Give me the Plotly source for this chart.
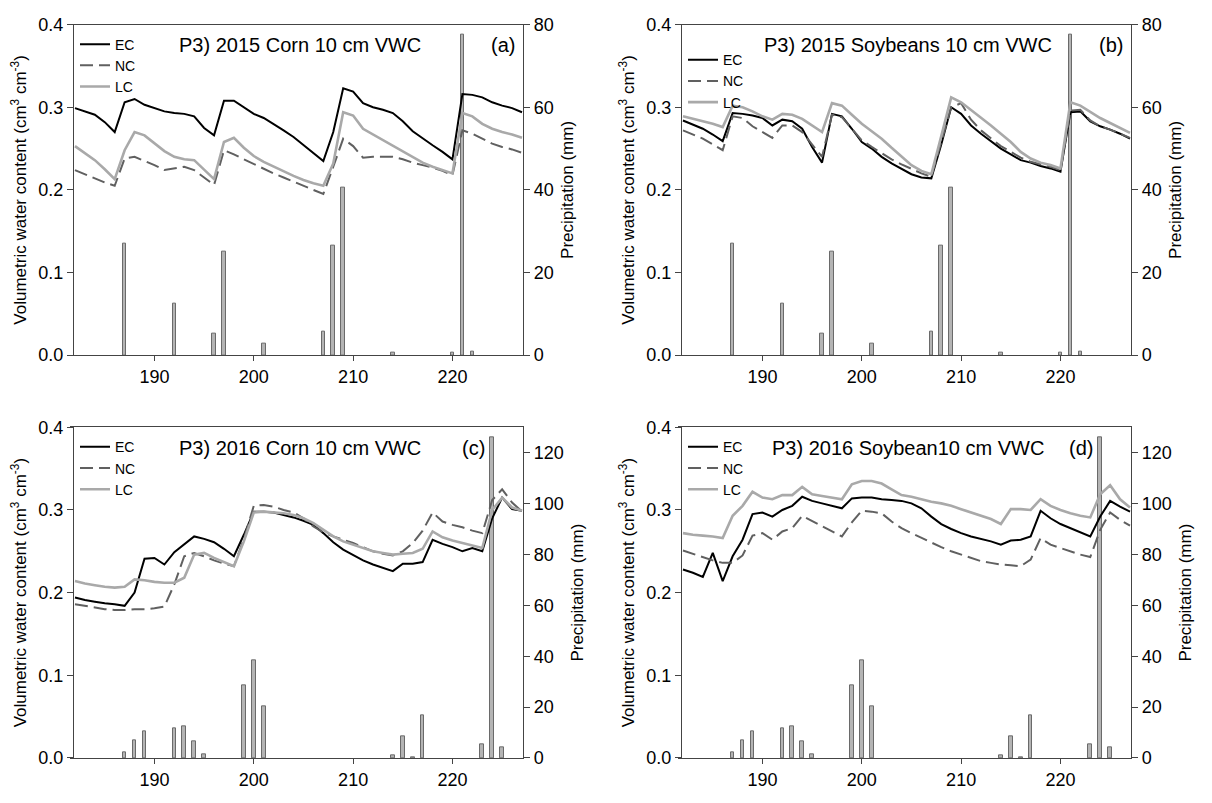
import plotly.graph_objects as go

# ---------------- data ----------------
days = list(range(182, 228))

# 2015 Corn
ec_2015_corn = [0.299, 0.295, 0.291, 0.282, 0.270, 0.306, 0.310, 0.303, 0.299, 0.295,
                0.293, 0.292, 0.289, 0.275, 0.266, 0.308, 0.308, 0.300, 0.292, 0.287,
                0.280, 0.272, 0.264, 0.254, 0.244, 0.235, 0.270, 0.323, 0.319, 0.305,
                0.300, 0.297, 0.293, 0.283, 0.271, 0.262, 0.254, 0.246, 0.237, 0.316,
                0.315, 0.312, 0.306, 0.302, 0.299, 0.294]
nc_2015_corn = [0.224, 0.219, 0.214, 0.209, 0.205, 0.238, 0.240, 0.235, 0.230, 0.224,
                0.226, 0.228, 0.224, 0.215, 0.206, 0.248, 0.243, 0.237, 0.231, 0.226,
                0.220, 0.215, 0.210, 0.205, 0.200, 0.195, 0.228, 0.262, 0.253, 0.239,
                0.240, 0.240, 0.240, 0.237, 0.233, 0.230, 0.227, 0.223, 0.218, 0.272,
                0.268, 0.262, 0.256, 0.252, 0.249, 0.245]
lc_2015_corn = [0.253, 0.244, 0.236, 0.225, 0.213, 0.248, 0.270, 0.266, 0.256, 0.247,
                0.240, 0.237, 0.236, 0.225, 0.213, 0.258, 0.263, 0.251, 0.241, 0.234,
                0.228, 0.222, 0.217, 0.212, 0.208, 0.205, 0.232, 0.294, 0.290, 0.274,
                0.267, 0.260, 0.254, 0.247, 0.240, 0.233, 0.228, 0.224, 0.220, 0.293,
                0.289, 0.280, 0.274, 0.270, 0.267, 0.263]

# 2015 Soybeans
ec_2015_soy = [0.284, 0.279, 0.274, 0.267, 0.259, 0.293, 0.292, 0.290, 0.287, 0.278,
               0.285, 0.283, 0.274, 0.252, 0.233, 0.292, 0.289, 0.274, 0.258, 0.250,
               0.240, 0.232, 0.225, 0.219, 0.215, 0.214, 0.255, 0.300, 0.292, 0.278,
               0.268, 0.259, 0.250, 0.243, 0.236, 0.233, 0.229, 0.226, 0.222, 0.294,
               0.295, 0.283, 0.277, 0.273, 0.268, 0.262]
nc_2015_soy = [0.272, 0.267, 0.262, 0.255, 0.248, 0.289, 0.287, 0.277, 0.270, 0.263,
               0.278, 0.278, 0.270, 0.255, 0.240, 0.291, 0.288, 0.274, 0.260, 0.252,
               0.244, 0.237, 0.231, 0.225, 0.220, 0.216, 0.257, 0.300, 0.305, 0.285,
               0.272, 0.262, 0.253, 0.246, 0.239, 0.234, 0.231, 0.228, 0.224, 0.296,
               0.297, 0.284, 0.277, 0.273, 0.268, 0.263]
lc_2015_soy = [0.289, 0.286, 0.283, 0.280, 0.276, 0.302, 0.300, 0.295, 0.289, 0.285,
               0.292, 0.291, 0.286, 0.278, 0.270, 0.305, 0.302, 0.291, 0.280, 0.271,
               0.262, 0.251, 0.240, 0.230, 0.223, 0.219, 0.265, 0.312, 0.306, 0.297,
               0.287, 0.278, 0.268, 0.258, 0.246, 0.238, 0.233, 0.230, 0.226, 0.306,
               0.302, 0.294, 0.287, 0.281, 0.275, 0.269]

# 2016 Corn
ec_2016_corn = [0.194, 0.191, 0.189, 0.187, 0.186, 0.184, 0.200, 0.241, 0.242, 0.234,
                0.249, 0.258, 0.268, 0.265, 0.261, 0.253, 0.244, 0.270, 0.298, 0.298,
                0.297, 0.294, 0.291, 0.287, 0.282, 0.272, 0.261, 0.252, 0.245, 0.239,
                0.234, 0.230, 0.226, 0.235, 0.235, 0.237, 0.264, 0.259, 0.255, 0.250,
                0.254, 0.250, 0.290, 0.315, 0.301, 0.299]
nc_2016_corn = [0.186, 0.184, 0.182, 0.180, 0.179, 0.179, 0.180, 0.180, 0.181, 0.183,
                0.210, 0.244, 0.248, 0.244, 0.239, 0.235, 0.232, 0.265, 0.305, 0.306,
                0.304, 0.300, 0.297, 0.290, 0.280, 0.273, 0.268, 0.264, 0.260, 0.255,
                0.250, 0.247, 0.245, 0.250, 0.260, 0.275, 0.297, 0.286, 0.282, 0.279,
                0.275, 0.272, 0.312, 0.325, 0.309, 0.298]
lc_2016_corn = [0.214, 0.211, 0.209, 0.207, 0.206, 0.207, 0.216, 0.215, 0.213, 0.212,
                0.212, 0.218, 0.246, 0.248, 0.242, 0.237, 0.232, 0.262, 0.297, 0.298,
                0.297, 0.296, 0.294, 0.290, 0.284, 0.276, 0.268, 0.262, 0.258, 0.254,
                0.250, 0.248, 0.246, 0.247, 0.248, 0.253, 0.274, 0.267, 0.263, 0.260,
                0.257, 0.254, 0.300, 0.315, 0.303, 0.299]

# 2016 Soybean
ec_2016_soy = [0.228, 0.224, 0.219, 0.248, 0.214, 0.244, 0.264, 0.295, 0.297, 0.292,
               0.300, 0.305, 0.316, 0.311, 0.308, 0.305, 0.302, 0.314, 0.315, 0.315,
               0.313, 0.312, 0.311, 0.308, 0.302, 0.292, 0.283, 0.277, 0.272, 0.268,
               0.265, 0.262, 0.258, 0.263, 0.264, 0.268, 0.299, 0.290, 0.283, 0.278,
               0.273, 0.268, 0.292, 0.311, 0.304, 0.298]
nc_2016_soy = [0.251, 0.247, 0.243, 0.239, 0.236, 0.236, 0.245, 0.269, 0.272, 0.264,
               0.274, 0.278, 0.293, 0.287, 0.280, 0.274, 0.268, 0.285, 0.299, 0.298,
               0.296, 0.286, 0.278, 0.272, 0.266, 0.260, 0.255, 0.250, 0.246, 0.242,
               0.238, 0.236, 0.234, 0.233, 0.232, 0.240, 0.266, 0.258, 0.254, 0.250,
               0.246, 0.243, 0.276, 0.297, 0.288, 0.281]
lc_2016_soy = [0.272, 0.270, 0.269, 0.268, 0.266, 0.293, 0.305, 0.322, 0.315, 0.313,
               0.318, 0.318, 0.328, 0.319, 0.317, 0.315, 0.313, 0.331, 0.335, 0.335,
               0.332, 0.325, 0.318, 0.316, 0.313, 0.310, 0.308, 0.305, 0.301, 0.297,
               0.293, 0.289, 0.283, 0.301, 0.301, 0.300, 0.313, 0.305, 0.300, 0.296,
               0.293, 0.291, 0.319, 0.330, 0.313, 0.303]

# precipitation (mm)
precip_2015_days = [187, 192, 196, 197, 201, 207, 208, 209, 214, 220, 221, 222]
precip_2015_mm = [27.1, 12.5, 5.2, 25.1, 2.8, 5.8, 26.5, 40.6, 0.6, 0.6, 77.6, 0.8]
precip_2016_days = [187, 188, 189, 192, 193, 194, 195, 199, 200, 201,
                    214, 215, 216, 217, 223, 224, 225]
precip_2016_mm = [2.0, 6.9, 10.6, 11.6, 12.6, 6.6, 1.3, 28.6, 38.2, 20.3,
                  0.9, 8.4, 0.4, 16.7, 5.4, 126.0, 4.3]

titles = ["P3) 2015 Corn 10 cm VWC", "P3) 2015 Soybeans 10 cm VWC",
          "P3) 2016 Corn 10 cm VWC", "P3) 2016 Soybean10 cm VWC"]
letters = ["(a)", "(b)", "(c)", "(d)"]
series_names = ["EC", "NC", "LC"]
x_ticks = [190, 200, 210, 220]
vwc_ticks = [0.0, 0.1, 0.2, 0.3, 0.4]
precip_max = [80, 80, 130, 130]

# ---------------- layout constants ----------------
W, H = 1212, 803
FONT = "Liberation Sans, Arial, sans-serif"
px_x = lambda p: p / W
px_y = lambda p: 1 - p / H

# x-axis line starts a few pixels left of the VWC axis, as in the original
x_domains = [[px_x(70), px_x(523)], [px_x(678), px_x(1131)],
             [px_x(70), px_x(523)], [px_x(678), px_x(1131)]]
yaxis_left_pos = [px_x(73), px_x(681), px_x(73), px_x(681)]
y_domains = [[px_y(354), px_y(15)], [px_y(354), px_y(15)],
             [px_y(767), px_y(428)], [px_y(767), px_y(428)]]
x_range = [181.5, 227.1]

panels = [
    (ec_2015_corn, nc_2015_corn, lc_2015_corn, precip_2015_days, precip_2015_mm),
    (ec_2015_soy, nc_2015_soy, lc_2015_soy, precip_2015_days, precip_2015_mm),
    (ec_2016_corn, nc_2016_corn, lc_2016_corn, precip_2016_days, precip_2016_mm),
    (ec_2016_soy, nc_2016_soy, lc_2016_soy, precip_2016_days, precip_2016_mm),
]

line_styles = [dict(color="#000000", width=2),
               dict(color="#606060", width=2, dash="13px,6px"),
               dict(color="#a9a9a9", width=2.6)]

fig = go.Figure()
legend_names = ["legend", "legend2", "legend3", "legend4"]

for i, (ec, nc, lc, pdays, pmm) in enumerate(panels):
    xid = "x" if i == 0 else f"x{i+1}"
    ybar = "y" if i == 0 else f"y{2*i+1}"
    yline = f"y{2*i+2}"
    fig.add_trace(go.Bar(x=pdays, y=pmm, xaxis=xid, yaxis=ybar, width=0.36,
                         marker=dict(color="#b4b4b4", line=dict(color="#6a6a6a", width=1)),
                         showlegend=False))
    for name, vals, st in zip(series_names, [ec, nc, lc], line_styles):
        fig.add_trace(go.Scatter(x=days, y=vals, mode="lines", name=name,
                                 xaxis=xid, yaxis=yline, line=st,
                                 legend=legend_names[i]))

axis_font = dict(family=FONT, size=18, color="#000")
title_font = dict(family=FONT, size=17, color="#000")
layout = dict(width=W, height=H, margin=dict(l=0, r=0, t=0, b=0),
              paper_bgcolor="white", plot_bgcolor="white", bargap=0,
              showlegend=True, font=dict(family=FONT, color="#000"))

for i in range(4):
    xkey = "xaxis" if i == 0 else f"xaxis{i+1}"
    ybar_key = "yaxis" if i == 0 else f"yaxis{2*i+1}"
    yline_key = f"yaxis{2*i+2}"
    ybar_ref = "y" if i == 0 else f"y{2*i+1}"
    xref = "x" if i == 0 else f"x{i+1}"
    layout[xkey] = dict(domain=x_domains[i], anchor=ybar_ref, range=x_range,
                        tickvals=x_ticks, ticks="outside", ticklen=5, tickcolor="#444",
                        showline=True, linecolor="#444", linewidth=1.2, mirror=True,
                        showgrid=False, zeroline=False, tickfont=axis_font)
    layout[ybar_key] = dict(domain=y_domains[i], anchor=xref, side="right",
                            range=[0, precip_max[i]], dtick=20, tick0=0,
                            ticks="outside", ticklen=6, tickcolor="#444",
                            showline=True, linecolor="#444", linewidth=1.2,
                            showgrid=False, zeroline=False, tickfont=axis_font,
                            title=dict(text="Precipitation (mm)", font=title_font, standoff=8))
    layout[yline_key] = dict(domain=y_domains[i], anchor="free", position=yaxis_left_pos[i],
                             side="left", overlaying=ybar_ref, range=[0, 0.4],
                             tickvals=vwc_ticks, tickformat=".1f", ticks="outside",
                             ticklen=6, tickcolor="#444",
                             showline=True, linecolor="#444", linewidth=1.2,
                             showgrid=False, zeroline=False, tickfont=axis_font,
                             title=dict(text="Volumetric water content (cm<sup>3</sup> cm<sup>-3</sup>)",
                                        font=title_font, standoff=6))
    leg_top = 15 if i < 2 else 428
    extra = 16 if i == 1 else 0
    layout[legend_names[i]] = dict(x=yaxis_left_pos[i] + px_x(2), xanchor="left",
                                   y=px_y(leg_top + 4 + extra), yanchor="top",
                                   bgcolor="rgba(0,0,0,0)", borderwidth=0,
                                   itemwidth=30, tracegroupgap=0,
                                   font=dict(family=FONT, size=14, color="#000"))

annotations = []
for i in range(4):
    xref = "x" if i == 0 else f"x{i+1}"
    yline_ref = f"y{2*i+2}"
    annotations.append(dict(text=titles[i], xref=f"{xref} domain", yref=f"{yline_ref} domain",
                            x=0.507, y=1 - 21 / 339, xanchor="center", yanchor="middle",
                            showarrow=False, font=dict(family=FONT, size=20, color="#000")))
    annotations.append(dict(text=letters[i], xref=f"{xref} domain", yref=f"{yline_ref} domain",
                            x=0.987 if i < 2 else 0.921, y=1 - 21 / 339,
                            xanchor="right", yanchor="middle",
                            showarrow=False, font=dict(family=FONT, size=20, color="#000")))
layout["annotations"] = annotations

fig.update_layout(**layout)
fig.write_html("out.html")
